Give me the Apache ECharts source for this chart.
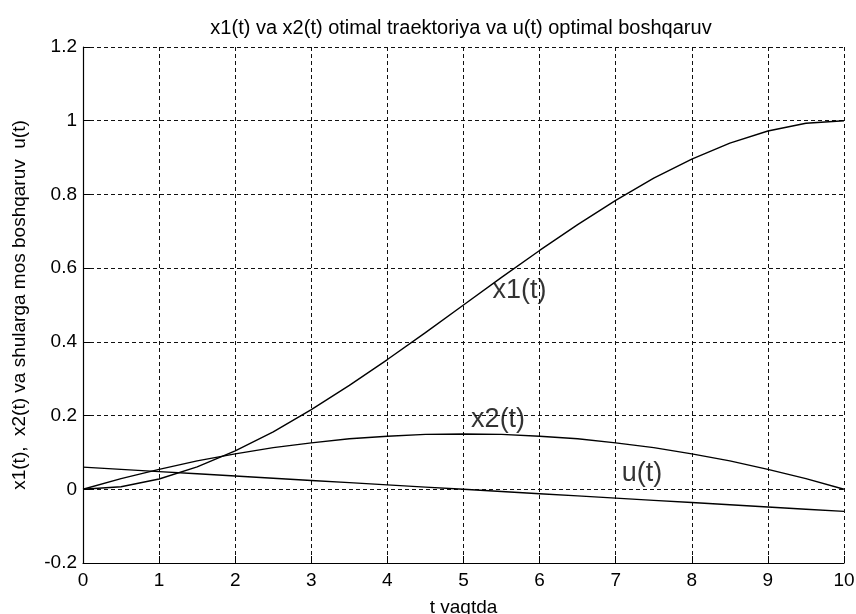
<!DOCTYPE html>
<html>
<head>
<meta charset="utf-8">
<script src="https://cdn.jsdelivr.net/npm/echarts@6/dist/echarts.min.js"></script>
<style>
  html, body { margin: 0; padding: 0; background: #fff; }
  #chart { width: 856px; height: 614px; }
</style>
</head>
<body>
<div id="chart"></div>
<script>
// Time grid (t, seconds)
const tVals = [0, 0.5, 1, 1.5, 2, 2.5, 3, 3.5, 4, 4.5, 5, 5.5, 6, 6.5, 7, 7.5, 8, 8.5, 9, 9.5, 10];
// Optimal trajectory x1(t)
const x1Vals = [0, 0.007, 0.028, 0.061, 0.104, 0.156, 0.216, 0.282, 0.352, 0.425, 0.5,
                0.575, 0.648, 0.718, 0.784, 0.844, 0.896, 0.939, 0.972, 0.993, 1.0];
// Optimal trajectory x2(t)
const x2Vals = [0, 0.029, 0.054, 0.077, 0.096, 0.113, 0.126, 0.137, 0.144, 0.149, 0.15,
                0.149, 0.144, 0.137, 0.126, 0.113, 0.096, 0.077, 0.054, 0.029, 0];
// Optimal control u(t)
const uVals = [0.06, 0.054, 0.048, 0.042, 0.036, 0.03, 0.024, 0.018, 0.012, 0.006, 0,
               -0.006, -0.012, -0.018, -0.024, -0.03, -0.036, -0.042, -0.048, -0.054, -0.06];

// Curve captions and the data points they are anchored at
const captionNames = ['x1(t)', 'x2(t)', 'u(t)'];
const captionT = [5.38, 5.1, 7.08];
const captionY = [0.539, 0.188, 0.044];

const titleText = 'x1(t) va x2(t) otimal traektoriya va u(t) optimal boshqaruv';
const xName = 't vaqtda';
const yName = 'x1(t),  x2(t) va shularga mos boshqaruv  u(t)';

const FONT = '"Liberation Sans", Arial, sans-serif';

function pairs(xs, ys) { return xs.map((x, i) => [x, ys[i]]); }

const lineStyle = { color: '#000', width: 1.4 };
const gridLine = { show: true, lineStyle: { color: '#111', width: 1, type: [4, 3] } };

const chart = echarts.init(document.getElementById('chart'), null, { renderer: 'canvas' });
chart.setOption({
  animation: false,
  backgroundColor: '#fff',
  grid: { left: 83, right: 12, top: 47, bottom: 51, containLabel: false, outerBoundsMode: 'none' },
  graphic: [{
    type: 'text',
    x: 461, y: 28,
    style: {
      text: titleText, fill: '#000', font: '20px ' + FONT,
      align: 'center', verticalAlign: 'middle'
    }
  }],
  xAxis: {
    type: 'value', min: 0, max: 10, interval: 1,
    axisLine: { show: true, onZero: false, lineStyle: { color: '#000', width: 1.2 } },
    axisTick: { show: true, inside: true, length: 7, lineStyle: { color: '#000' } },
    axisLabel: { color: '#000', fontSize: 19, fontFamily: FONT, margin: 8 },
    splitLine: gridLine,
    name: xName, nameLocation: 'middle', nameGap: 35,
    nameTextStyle: { color: '#000', fontSize: 19, fontFamily: FONT }
  },
  yAxis: {
    type: 'value', min: -0.2, max: 1.2, interval: 0.2,
    axisLine: { show: true, onZero: false, lineStyle: { color: '#000', width: 1.2 } },
    axisTick: { show: true, inside: true, length: 7, lineStyle: { color: '#000' } },
    axisLabel: { color: '#000', fontSize: 19, fontFamily: FONT, margin: 6 },
    splitLine: gridLine,
    name: yName, nameLocation: 'middle', nameGap: 54, nameRotate: 90,
    nameTextStyle: { color: '#000', fontSize: 19, fontFamily: FONT }
  },
  series: [
    { type: 'line', data: pairs(tVals, x1Vals), showSymbol: false, lineStyle },
    { type: 'line', data: pairs(tVals, x2Vals), showSymbol: false, lineStyle },
    { type: 'line', data: pairs(tVals, uVals), showSymbol: false, lineStyle },
    {
      type: 'scatter', symbolSize: 0, silent: true,
      data: captionNames.map((n, i) => ({ name: n, value: [captionT[i], captionY[i]] })),
      label: {
        show: true, position: 'right', distance: 0, formatter: p => p.name,
        color: '#000', fontSize: 27, fontFamily: FONT, verticalAlign: 'middle'
      }
    }
  ]
});
</script>
</body>
</html>
